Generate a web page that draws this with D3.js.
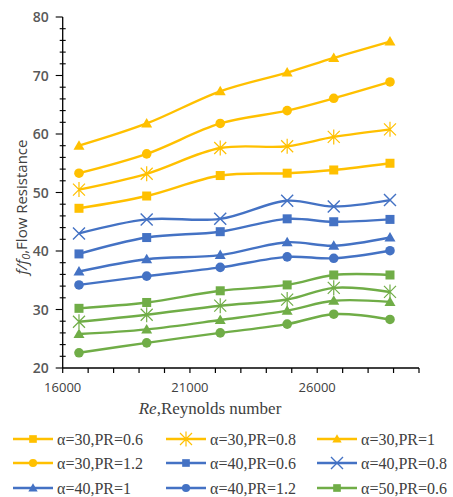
<!DOCTYPE html>
<html><head><meta charset="utf-8">
<script src="https://cdn.jsdelivr.net/npm/d3@7"></script>
<style>body{margin:0;background:#fff;} svg{display:block;}</style>
</head><body>
<svg id="c" width="453" height="497"></svg>
<script>
const reynolds = [16640, 19300, 22190, 24820, 26650, 28860];
const seriesNames = ["α=30,PR=0.6","α=30,PR=0.8","α=30,PR=1","α=30,PR=1.2",
  "α=40,PR=0.6","α=40,PR=0.8","α=40,PR=1","α=40,PR=1.2",
  "α=50,PR=0.6","α=50,PR=0.8","α=50,PR=1","α=50,PR=1.2"];
const a30pr06 = [47.3, 49.4, 52.9, 53.3, 53.85, 55.0];
const a30pr08 = [50.5, 53.2, 57.6, 57.9, 59.5, 60.8];
const a30pr1  = [58.0, 61.8, 67.3, 70.5, 73.0, 75.8];
const a30pr12 = [53.3, 56.6, 61.8, 64.0, 66.1, 68.9];
const a40pr06 = [39.5, 42.3, 43.3, 45.5, 45.0, 45.4];
const a40pr08 = [43.0, 45.4, 45.5, 48.6, 47.6, 48.7];
const a40pr1  = [36.5, 38.6, 39.3, 41.5, 40.9, 42.3];
const a40pr12 = [34.2, 35.7, 37.2, 39.0, 38.75, 40.05];
const a50pr06 = [30.2, 31.2, 33.2, 34.2, 35.9, 35.9];
const a50pr08 = [27.9, 29.1, 30.65, 31.7, 33.7, 33.0];
const a50pr1  = [25.8, 26.6, 28.2, 29.8, 31.5, 31.3];
const a50pr12 = [22.6, 24.3, 26.0, 27.5, 29.2, 28.3];
const seriesValues = [a30pr06,a30pr08,a30pr1,a30pr12,a40pr06,a40pr08,a40pr1,a40pr12,a50pr06,a50pr08,a50pr1,a50pr12];
const seriesColors = ["#FFC000","#FFC000","#FFC000","#FFC000","#4472C4","#4472C4","#4472C4","#4472C4","#70AD47","#70AD47","#70AD47","#70AD47"];
const seriesMarkers = ["square","star","triangle","circle","square","x","triangle","circle","square","star","triangle","circle"];
const xTickLabels = [16000, 21000, 26000];
const yTickLabels = [20, 30, 40, 50, 60, 70, 80];
const legendCount = 9;

const svg = d3.select("#c");
const x = d3.scaleLinear().domain([16000, 30000]).range([62.7, 419]);
const y = d3.scaleLinear().domain([20, 80]).range([368, 17]);

// axes
const gx = svg.append("g").attr("transform", `translate(0,${y(20)})`);
gx.append("line").attr("x1", x(16000)).attr("x2", x(30000)).attr("stroke", "#000").attr("stroke-width", 1.3);
gx.selectAll("line.t").data(d3.range(16000, 30001, 1000)).join("line").attr("class","t")
  .attr("x1", d => x(d)).attr("x2", d => x(d)).attr("y1", 0).attr("y2", 5).attr("stroke", "#000").attr("stroke-width", 1.2);
gx.selectAll("text").data(xTickLabels).join("text")
  .attr("x", d => x(d)).attr("y", 24).attr("text-anchor", "middle")
  .attr("font-family", "Open Sans, sans-serif").attr("font-size", 13).attr("fill", "#404040").text(d => d);

const gy = svg.append("g").attr("transform", `translate(${x(16000)},0)`);
gy.append("line").attr("y1", y(20)).attr("y2", y(80)).attr("stroke", "#000").attr("stroke-width", 1.3);
gy.selectAll("line.m").data(d3.range(20, 81, 2)).join("line").attr("class","m")
  .attr("y1", d => y(d)).attr("y2", d => y(d)).attr("x1", d => d % 10 === 0 ? -7 : -3).attr("x2", d => d % 10 === 0 ? 0 : 3)
  .attr("stroke", "#000").attr("stroke-width", 1.1);
gy.selectAll("text").data(yTickLabels).join("text")
  .attr("x", -14).attr("y", d => y(d) + 5).attr("text-anchor", "end")
  .attr("font-family", "Open Sans, sans-serif").attr("font-size", 14).attr("font-weight", 600).attr("fill", "#595959").text(d => d);

// marker drawing
function drawMarker(g, type, color, s) {
  s = s || 1;
  if (type === "square") g.append("rect").attr("x", -4.5*s).attr("y", -4.5*s).attr("width", 9*s).attr("height", 9*s).attr("fill", color);
  else if (type === "circle") g.append("circle").attr("r", 4.8*s).attr("fill", color);
  else if (type === "triangle") g.append("path").attr("d", `M0,${-5.5*s}L${5.5*s},${4*s}L${-5.5*s},${4*s}Z`).attr("fill", color);
  else if (type === "x") g.append("path").attr("d", `M-6,-6L6,6M-6,6L6,-6`).attr("stroke", color).attr("stroke-width", 1.4).attr("fill", "none");
  else if (type === "star") g.append("path").attr("d", `M-6,-6L6,6M-6,6L6,-6M0,-7.5L0,7.5`).attr("stroke", color).attr("stroke-width", 1.2).attr("fill", "none");
}

const line = d3.line().x((d,i) => x(reynolds[i])).y(d => y(d)).curve(d3.curveCatmullRom.alpha(0.5));
const plot = svg.append("g");
seriesValues.forEach((vals, k) => {
  plot.append("path").attr("d", line(vals)).attr("fill", "none").attr("stroke", seriesColors[k]).attr("stroke-width", 2.4);
});
seriesValues.forEach((vals, k) => {
  vals.forEach((v, i) => {
    const g = plot.append("g").attr("transform", `translate(${x(reynolds[i])},${y(v)})`);
    drawMarker(g, seriesMarkers[k], seriesColors[k]);
  });
});

// axis titles
const yt = svg.append("text").attr("transform", "translate(27,207) rotate(-90)").attr("text-anchor", "middle")
  .attr("font-family", "Open Sans, sans-serif").attr("font-size", 15).attr("fill", "#404040");
yt.append("tspan").attr("font-style", "italic").text("f/f");
yt.append("tspan").attr("font-style", "italic").attr("font-size", 11).attr("dy", 3).text("0");
yt.append("tspan").attr("dy", -3).text(",Flow Resistance");

const xt = svg.append("text").attr("x", 210).attr("y", 414).attr("text-anchor", "middle")
  .attr("font-family", "Liberation Serif, serif").attr("font-size", 17).attr("fill", "#404040");
xt.append("tspan").attr("font-style", "italic").text("Re");
xt.append("tspan").text(",Reynolds number");

// legend
const colX = [13, 166, 317];
const rowY = [439, 463, 488];
for (let k = 0; k < legendCount; k++) {
  const cx = colX[k % 3], cy = rowY[Math.floor(k / 3)];
  const g = svg.append("g").attr("transform", `translate(${cx},${cy})`);
  g.append("line").attr("x1", 0).attr("x2", 40).attr("stroke", seriesColors[k]).attr("stroke-width", 2.4);
  const m = g.append("g").attr("transform", "translate(20,0)");
  drawMarker(m, seriesMarkers[k], seriesColors[k], 0.85);
  g.append("text").attr("x", 44).attr("y", 5.5).attr("font-family", "Liberation Serif, serif").attr("font-size", 16)
    .attr("fill", "#404040").text(seriesNames[k]);
}
</script>
</body></html>
